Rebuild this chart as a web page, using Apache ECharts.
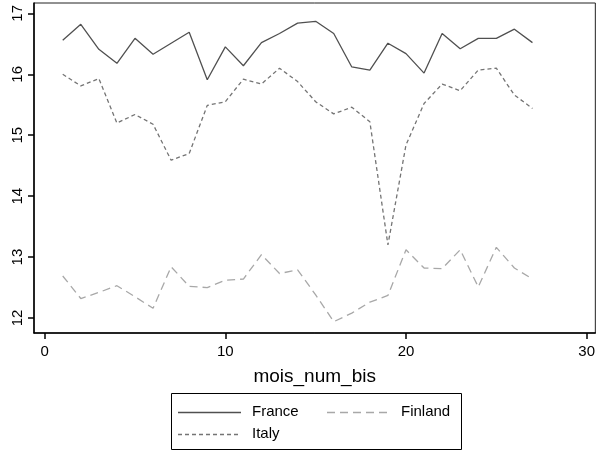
<!DOCTYPE html>
<html><head><meta charset="utf-8">
<script src="https://cdn.jsdelivr.net/npm/echarts@6/dist/echarts.min.js"></script>
<style>html,body{margin:0;padding:0;background:#fff}#c{width:598px;height:451px}</style>
</head><body><div id="c"></div>
<script>
const months = [1,2,3,4,5,6,7,8,9,10,11,12,13,14,15,16,17,18,19,20,21,22,23,24,25,26,27];
const france = [16.56,16.82,16.41,16.18,16.59,16.33,16.51,16.69,15.91,16.45,16.14,16.52,16.67,16.84,16.87,16.67,16.12,16.07,16.51,16.34,16.02,16.67,16.42,16.59,16.59,16.74,16.52];
const finland = [12.69,12.32,12.42,12.53,12.35,12.16,12.84,12.52,12.50,12.62,12.64,13.04,12.73,12.79,12.38,11.94,12.08,12.26,12.37,13.12,12.82,12.81,13.12,12.51,13.16,12.82,12.64];
const italy = [16.00,15.81,15.93,15.20,15.34,15.18,14.59,14.70,15.49,15.55,15.92,15.84,16.10,15.88,15.55,15.35,15.46,15.22,13.20,14.84,15.52,15.84,15.73,16.07,16.10,15.66,15.44];
const xTicks = [0,10,20,30];
const yTicks = [12,13,14,15,16,17];
const xTitle = 'mois_num_bis';
const seriesNames = ['France','Finland','Italy'];

const pair = (ys) => months.map((m,i)=>[m, ys[i]]);
const font = 'Liberation Sans, Arial, sans-serif';
const styles = {
  France:{color:'#505050',dash:null},
  Finland:{color:'#a8a8a8',dash:[8,5]},
  Italy:{color:'#747474',dash:[4,3]}
};
const legendPos = {France:[178,412],Finland:[327,412],Italy:[178,434]};
const legendGraphics = [{type:'rect',shape:{x:171.5,y:393.5,width:290,height:56},style:{fill:'none',stroke:'#000',lineWidth:1}}];
seriesNames.forEach(n=>{
  const [x,y]=legendPos[n];
  legendGraphics.push({type:'line',shape:{x1:x,y1:y+0.5,x2:x+63,y2:y+0.5},style:{stroke:styles[n].color,lineWidth:1.3,lineDash:styles[n].dash}});
  legendGraphics.push({type:'text',x:x+74,y:y,style:{text:n,font:'15px '+font,fill:'#000',verticalAlign:'middle',align:'left'}});
});

const chart = echarts.init(document.getElementById('c'));
chart.setOption({
  animation:false,
  backgroundColor:'#fff',
  grid:{left:34,right:1,top:3,bottom:118,show:true,borderColor:'#222',borderWidth:1,containLabel:false},
  xAxis:{type:'value',min:-0.59,max:30.48,
    name:xTitle,nameLocation:'middle',nameGap:34,
    nameTextStyle:{fontFamily:font,fontSize:19,color:'#000'},
    axisLine:{show:true,onZero:false,lineStyle:{color:'#000',width:1.5}},
    axisTick:{show:true,customValues:xTicks,length:6,lineStyle:{color:'#000',width:1.5}},
    axisLabel:{customValues:xTicks,fontFamily:font,fontSize:15,color:'#000',margin:11},
    splitLine:{show:false}},
  yAxis:{type:'value',min:11.754,max:17.17,
    axisLine:{show:true,onZero:false,lineStyle:{color:'#000',width:1.5}},
    axisTick:{show:true,customValues:yTicks,length:6,lineStyle:{color:'#000',width:1.5}},
    axisLabel:{customValues:yTicks,rotate:90,fontFamily:font,fontSize:15,color:'#000',margin:9,align:'center',verticalAlign:'bottom'},
    splitLine:{show:false}},
  graphic:legendGraphics,
  series:seriesNames.map((n,i)=>({
    name:n,type:'line',data:pair([france,finland,italy][i]),symbol:'none',
    lineStyle:{color:styles[n].color,width:1.3,type:styles[n].dash||'solid'},itemStyle:{color:styles[n].color}
  }))
});
</script></body></html>
